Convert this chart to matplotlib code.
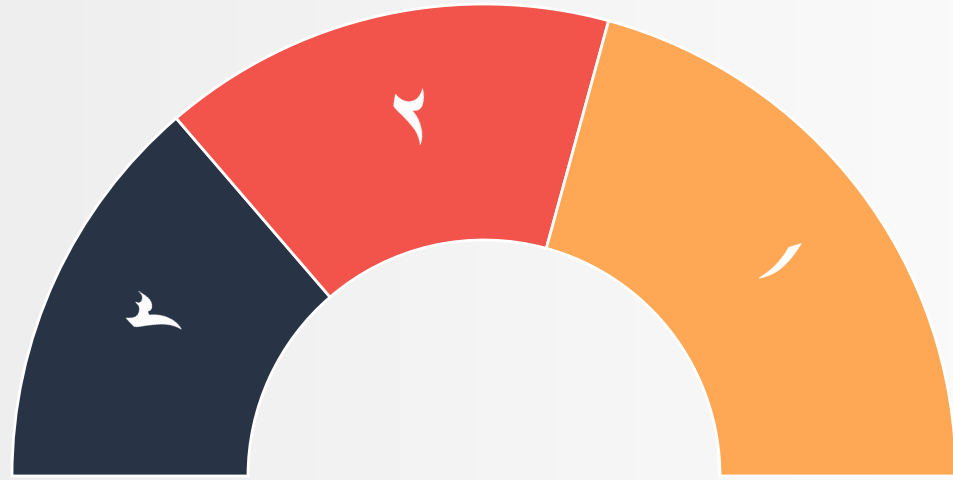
import numpy as np
import matplotlib
matplotlib.use("Agg")
import matplotlib.pyplot as plt
from matplotlib.colors import LinearSegmentedColormap

labels = ["۳", "۲", "۱"]
values = [66, 75, 100]
colors = ["#283446", "#f2534a", "#fea856"]

W, H = 954, 480
fig = plt.figure(figsize=(W / 100, H / 100), dpi=100)
ax = fig.add_axes([0, 0, 1, 1])

# background gradient
grad = np.linspace(0, 1, 256).reshape(1, -1)
cmap = LinearSegmentedColormap.from_list("bg", ["#eeeeee", "#fafafa"])
ax.imshow(grad, extent=[0, W, 0, H], cmap=cmap, aspect="auto", zorder=0)

cx, cy = 484, 4
R = 472
total = sum(values)
wedges, _ = ax.pie(values + [total], colors=colors + ["none"], startangle=180,
                   counterclock=False, center=(cx, cy), radius=R, frame=True,
                   wedgeprops=dict(width=R / 2, edgecolor="white", linewidth=2))
wedges[-1].set_visible(False)
for w in wedges:
    w.set_zorder(2)
ax.set_xlim(0, W)
ax.set_ylim(0, H)
ax.set_aspect("equal")
ax.axis("off")

rl = 0.76 * R
shift = 9  # tangential nudge along the text baseline
start = 180.0
for lab, v in zip(labels, values):
    span = 180.0 * v / total
    mid = start - span / 2
    start -= span
    t = np.deg2rad(mid)
    x = cx + rl * np.cos(t) + shift * np.sin(t)
    y = cy + rl * np.sin(t) - shift * np.cos(t)
    ax.text(x, y, lab, rotation=mid - 90,
            rotation_mode="anchor", ha="center", va="center", color="white",
            fontsize=68, family=["Aref Ruqaa", "DejaVu Sans"], zorder=3)

fig.savefig("out.png", dpi=100)
